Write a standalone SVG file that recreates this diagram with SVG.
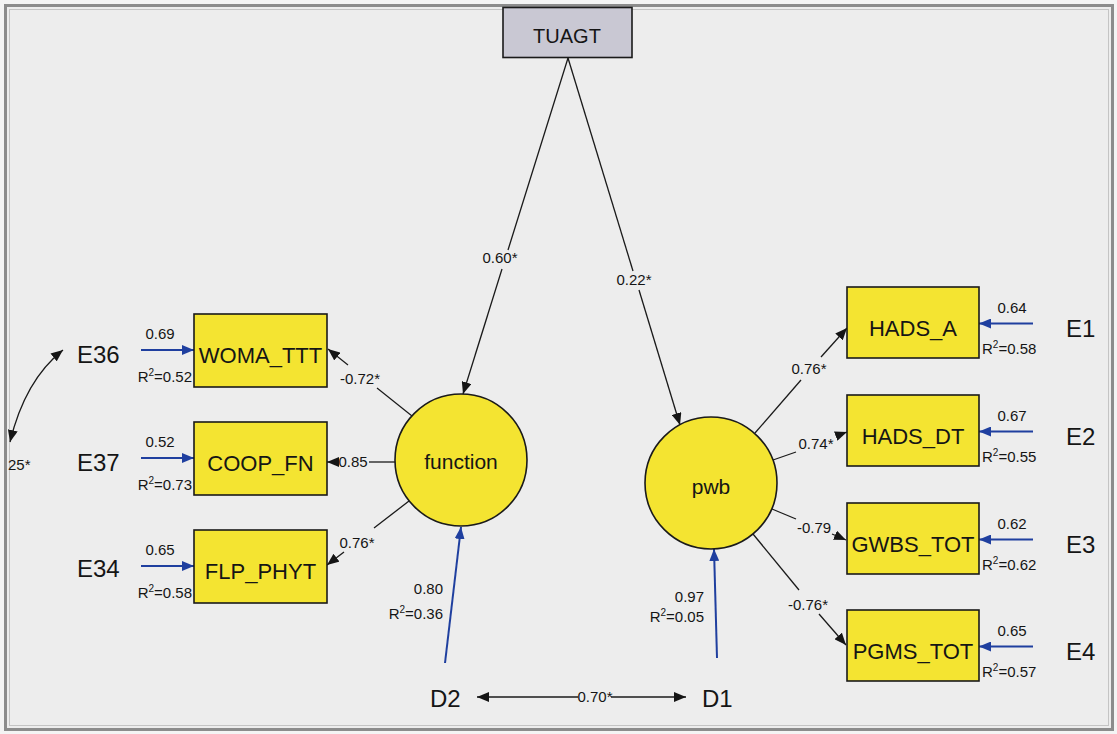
<svg xmlns="http://www.w3.org/2000/svg" width="1117" height="734" viewBox="0 0 1117 734">
<defs>
<marker id="ah" viewBox="0 0 12 10" refX="12" refY="5" markerWidth="12" markerHeight="10" markerUnits="userSpaceOnUse" orient="auto-start-reverse"><path d="M0,0 L12,5 L0,10 z" fill="#151515"/></marker>
<marker id="ahb" viewBox="0 0 12 10" refX="12" refY="5" markerWidth="12" markerHeight="10" markerUnits="userSpaceOnUse" orient="auto-start-reverse"><path d="M0,0 L12,5 L0,10 z" fill="#1f3f9f"/></marker>
</defs>
<style>
.bg{fill:#f4f4f4}
.frame{fill:#ededed;stroke:#8c8c8c;stroke-width:3}
.frame2{fill:none;stroke:#c4c4c4;stroke-width:1}
.obs{fill:#f4e431;stroke:#1a1a1a;stroke-width:1.6}
.lat{fill:#f4e431;stroke:#1a1a1a;stroke-width:1.6}
.exo{fill:#c9c8d3;stroke:#1a1a1a;stroke-width:1.6}
.nt{font-family:"Liberation Sans",Arial,sans-serif;font-size:22px;fill:#151515;text-anchor:middle}
.lt{font-family:"Liberation Sans",Arial,sans-serif;font-size:21px;fill:#151515;text-anchor:middle}
.et{font-family:"Liberation Sans",Arial,sans-serif;font-size:24px;fill:#151515}
.sl{font-family:"Liberation Sans",Arial,sans-serif;font-size:15px;fill:#151515}
.mid{text-anchor:middle}
.end{text-anchor:end}
.ln{stroke:#1a1a1a;stroke-width:1.3;fill:none}
.lb{stroke:#1f3f9f;stroke-width:2;fill:none}
</style>
<rect class="bg" x="0" y="0" width="1117" height="734"/>
<rect class="frame" x="5.5" y="5.5" width="1107" height="724"/>
<rect class="frame2" x="9.5" y="9.5" width="1099" height="716"/>

<g id="connectors">
<path class="ln" d="M568,58 L508,250"/>
<path class="ln" d="M502,269 L463,394" marker-end="url(#ah)"/>
<path class="ln" d="M568,58 L633,271"/>
<path class="ln" d="M639,290 L680,425" marker-end="url(#ah)"/>
<path class="ln" d="M412,416 L377,388"/>
<path class="ln" d="M348,365 L328,349" marker-end="url(#ah)"/>
<path class="ln" d="M395,462 L369,462"/>
<path class="ln" d="M339,462 L327,462" marker-end="url(#ah)"/>
<path class="ln" d="M409,501 L374,528"/>
<path class="ln" d="M344,552 L327,565" marker-end="url(#ah)"/>
<path class="ln" d="M755,433 L801,380"/>
<path class="ln" d="M821,357 L847,328" marker-end="url(#ah)"/>
<path class="ln" d="M773,460 L796,452"/>
<path class="ln" d="M836,436 L847,432" marker-end="url(#ah)"/>
<path class="ln" d="M772,509 L796,519"/>
<path class="ln" d="M832,534 L846,540" marker-end="url(#ah)"/>
<path class="ln" d="M753,534 L799,590"/>
<path class="ln" d="M819,614 L846,645" marker-end="url(#ah)"/>
<path class="ln" d="M477,697 L578,697" marker-start="url(#ah)"/>
<path class="ln" d="M611,697 L686,697" marker-end="url(#ah)"/>
<path class="ln" d="M63,350 Q25,380 10,442" marker-start="url(#ah)" marker-end="url(#ah)"/>
<path class="lb" d="M445,663 L461,527" marker-end="url(#ahb)"/>
<path class="lb" d="M717,658 L714,549" marker-end="url(#ahb)"/>
<path class="lb" d="M141,350 L194,350" marker-end="url(#ahb)"/>
<path class="lb" d="M141,458 L194,458" marker-end="url(#ahb)"/>
<path class="lb" d="M141,566 L194,566" marker-end="url(#ahb)"/>
<path class="lb" d="M1033,323.5 L979,323.5" marker-end="url(#ahb)"/>
<path class="lb" d="M1033,431.5 L979,431.5" marker-end="url(#ahb)"/>
<path class="lb" d="M1033,539.5 L979,539.5" marker-end="url(#ahb)"/>
<path class="lb" d="M1033,646.5 L979,646.5" marker-end="url(#ahb)"/>
<text class="sl mid" x="500" y="263">0.60*</text>
<text class="sl mid" x="634" y="285">0.22*</text>
<text class="sl mid" x="360" y="384">-0.72*</text>
<text class="sl mid" x="353" y="467">0.85</text>
<text class="sl mid" x="357" y="548">0.76*</text>
<text class="sl mid" x="809" y="374">0.76*</text>
<text class="sl mid" x="816" y="449">0.74*</text>
<text class="sl mid" x="814" y="533">-0.79</text>
<text class="sl mid" x="808" y="610">-0.76*</text>
<text class="sl mid" x="595" y="702">0.70*</text>
<text class="sl" x="8" y="470">25*</text>
<text class="sl end" x="443" y="594">0.80</text>
<text class="sl end" x="443" y="619">R<tspan font-size="10" dy="-6">2</tspan><tspan dy="6">=0.36</tspan></text>
<text class="sl end" x="704" y="602">0.97</text>
<text class="sl end" x="704" y="622">R<tspan font-size="10" dy="-6">2</tspan><tspan dy="6">=0.05</tspan></text>
</g>

<g id="TUAGT">
<rect class="exo" x="503" y="7.5" width="129" height="50"/>
<text class="lt" x="567" y="43" style="font-size:20px">TUAGT</text>
</g>

<g id="function">
<circle class="lat" cx="461" cy="460" r="66"/>
<text class="lt" x="461" y="469">function</text>
</g>

<g id="pwb">
<circle class="lat" cx="711" cy="483" r="66"/>
<text class="lt" x="711" y="494">pwb</text>
</g>

<g id="WOMA_TTT">
<rect class="obs" x="194" y="314" width="133" height="73"/>
<text class="nt" x="260.5" y="363">WOMA_TTT</text>
</g>
<g id="COOP_FN">
<rect class="obs" x="194" y="422" width="133" height="73"/>
<text class="nt" x="260.5" y="471">COOP_FN</text>
</g>
<g id="FLP_PHYT">
<rect class="obs" x="194" y="530" width="133" height="73"/>
<text class="nt" x="260.5" y="579">FLP_PHYT</text>
</g>

<g id="HADS_A">
<rect class="obs" x="847" y="287" width="132" height="71"/>
<text class="nt" x="913" y="336">HADS_A</text>
</g>
<g id="HADS_DT">
<rect class="obs" x="847" y="395" width="132" height="71"/>
<text class="nt" x="913" y="444">HADS_DT</text>
</g>
<g id="GWBS_TOT">
<rect class="obs" x="847" y="503" width="132" height="71"/>
<text class="nt" x="913" y="552">GWBS_TOT</text>
</g>
<g id="PGMS_TOT">
<rect class="obs" x="847" y="610" width="132" height="71"/>
<text class="nt" x="913" y="659">PGMS_TOT</text>
</g>

<g id="E36">
<text class="et" x="77" y="363">E36</text>
<text class="sl mid" x="160" y="339">0.69</text>
<text class="sl end" x="192" y="382">R<tspan font-size="10" dy="-6">2</tspan><tspan dy="6">=0.52</tspan></text>
</g>
<g id="E37">
<text class="et" x="77" y="471">E37</text>
<text class="sl mid" x="160" y="447">0.52</text>
<text class="sl end" x="192" y="490">R<tspan font-size="10" dy="-6">2</tspan><tspan dy="6">=0.73</tspan></text>
</g>
<g id="E34">
<text class="et" x="77" y="577">E34</text>
<text class="sl mid" x="160" y="555">0.65</text>
<text class="sl end" x="192" y="598">R<tspan font-size="10" dy="-6">2</tspan><tspan dy="6">=0.58</tspan></text>
</g>

<g id="E1">
<text class="et" x="1066" y="337">E1</text>
<text class="sl mid" x="1012" y="313">0.64</text>
<text class="sl" x="982" y="354">R<tspan font-size="10" dy="-6">2</tspan><tspan dy="6">=0.58</tspan></text>
</g>
<g id="E2">
<text class="et" x="1066" y="445">E2</text>
<text class="sl mid" x="1012" y="421">0.67</text>
<text class="sl" x="982" y="462">R<tspan font-size="10" dy="-6">2</tspan><tspan dy="6">=0.55</tspan></text>
</g>
<g id="E3">
<text class="et" x="1066" y="553">E3</text>
<text class="sl mid" x="1012" y="529">0.62</text>
<text class="sl" x="982" y="570">R<tspan font-size="10" dy="-6">2</tspan><tspan dy="6">=0.62</tspan></text>
</g>
<g id="E4">
<text class="et" x="1066" y="660">E4</text>
<text class="sl mid" x="1012" y="636">0.65</text>
<text class="sl" x="982" y="677">R<tspan font-size="10" dy="-6">2</tspan><tspan dy="6">=0.57</tspan></text>
</g>

<g id="D2">
<text class="et" x="430" y="707">D2</text>
</g>
<g id="D1">
<text class="et" x="702" y="707">D1</text>
</g>
</svg>
